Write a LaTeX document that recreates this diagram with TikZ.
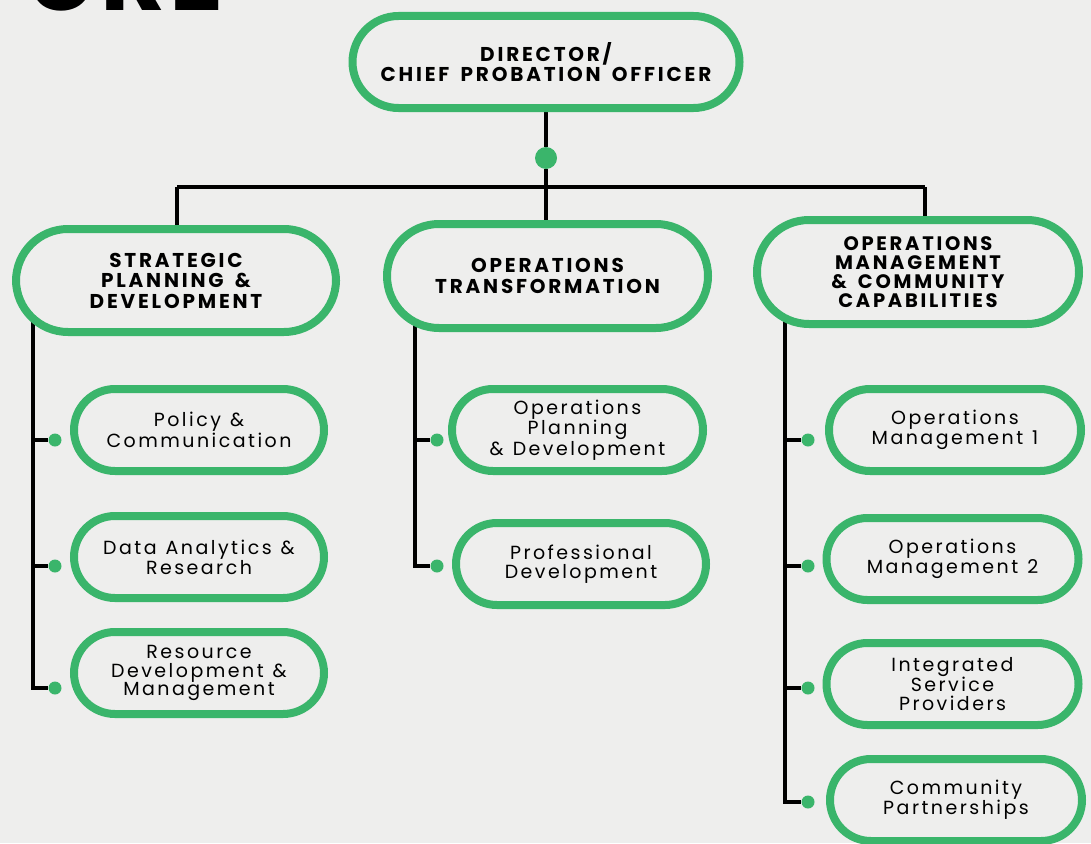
\documentclass[tikz,border=0pt]{standalone}
\usepackage{fontspec}
\setmainfont{Poppins}
\newfontfamily\hfont{Poppins}[LetterSpace=14,WordSpace=1.6]
\newfontfamily\cfont{Poppins}[LetterSpace=13,WordSpace=1.2]
\newfontfamily\tfont{Poppins}[LetterSpace=4]
\usetikzlibrary{calc}
\definecolor{grn}{RGB}{58,181,107}
\definecolor{bgc}{RGB}{238,238,237}
\pgfdeclarelayer{back}
\pgfdeclarelayer{bg}
\pgfsetlayers{back,bg,main}
\tikzset{
  pill/.style={draw=grn, line width=8pt, fill=bgc, align=center, inner sep=0pt, text=black},
  head/.style={pill, font=\hfont\bfseries\fontsize{20}{20.5}\selectfont, minimum height=104pt, rounded corners=52pt, minimum width=321pt},
  sub/.style={pill, font=\cfont\fontsize{19}{18.5}\selectfont, minimum height=82pt, rounded corners=41pt, minimum width=250pt},
  conn/.style={line width=4pt, black},
  dotn/.style={circle, fill=grn, inner sep=0pt, minimum size=13pt},
}
\begin{document}
\begin{tikzpicture}[x=1pt,y=-1pt]
\useasboundingbox (0,0) rectangle (1091,843);
\begin{pgfonlayer}{back}
\fill[bgc] (0,0) rectangle (1091,843);
\end{pgfonlayer}
\begin{scope}
\clip (0,0) rectangle (1091,843);
\node[anchor=base west, font=\tfont\bfseries\fontsize{100}{100}\selectfont, inner sep=0pt] (ttl) at (26,11) {URE};

\node[head, minimum height=92pt, rounded corners=46pt, minimum width=387pt] (dir) at (546,62) {DIRECTOR/\\CHIEF PROBATION OFFICER};
\node[dotn, minimum size=22pt] (topdot) at (546,158) {};
\coordinate (barL) at (177,187);
\coordinate (barR) at (925,187);

\node[head, minimum width=320pt, minimum height=103pt] (spd) at (176,280.5) {STRATEGIC\\PLANNING \&\\DEVELOPMENT};
\node[head] (ot) at (547.5,276) {OPERATIONS\\TRANSFORMATION};
\node[head, minimum width=322pt, font=\hfont\bfseries\fontsize{19.5}{19}\selectfont] (omcc) at (918,272) {OPERATIONS\\MANAGEMENT\\\& COMMUNITY\\CAPABILITIES};

\node[sub] (pc) at (199,430) {Policy \&\\Communication};
\node[sub] (da) at (199,557) {Data Analytics \&\\Research};
\node[sub] (rd) at (199,673) {Resource\\Development \&\\Management};

\node[sub, minimum width=251pt] (opd) at (577.5,430) {Operations\\Planning\\\& Development};
\node[sub] (prof) at (581,564) {Professional\\Development};

\node[sub, minimum width=252pt] (om1) at (955,430) {Operations\\Management 1};
\node[sub, minimum width=252pt] (om2) at (952.5,559) {Operations\\Management 2};
\node[sub, minimum width=252pt] (isp) at (952.5,684) {Integrated\\Service\\Providers};
\node[sub, minimum width=252pt] (cp) at (956,800) {Community\\Partnerships};

\node[dotn] (dl1) at (55,440) {};
\node[dotn] (dl2) at (55,566) {};
\node[dotn] (dl3) at (55,688) {};
\node[dotn] (dm1) at (437,440) {};
\node[dotn] (dm2) at (437,566) {};
\node[dotn] (dr1) at (808,440) {};
\node[dotn] (dr2) at (808,566) {};
\node[dotn] (dr3) at (808,688) {};
\node[dotn] (dr4) at (808,802) {};

\coordinate (spL) at (33,300);
\coordinate (spM) at (415,300);
\coordinate (spR) at (785,300);

\begin{pgfonlayer}{bg}
\draw[conn] (dir) -- (topdot);
\draw[conn] (topdot) -- (topdot |- barL);
\draw[conn] (barL) -- (barR);
\draw[conn] (barL) -- (barL |- spd.center);
\draw[conn] (topdot |- barL) -- (topdot |- ot.center);
\draw[conn] (barR) -- (barR |- omcc.center);
\draw[conn] (spL) |- (dl3);
\draw[conn] (dl1) -- (dl1 -| spL);
\draw[conn] (dl2) -- (dl2 -| spL);
\draw[conn] (spM) |- (dm2);
\draw[conn] (dm1) -- (dm1 -| spM);
\draw[conn] (spR) |- (dr4);
\draw[conn] (dr1) -- (dr1 -| spR);
\draw[conn] (dr2) -- (dr2 -| spR);
\draw[conn] (dr3) -- (dr3 -| spR);
\end{pgfonlayer}
\end{scope}
\end{tikzpicture}
\end{document}
